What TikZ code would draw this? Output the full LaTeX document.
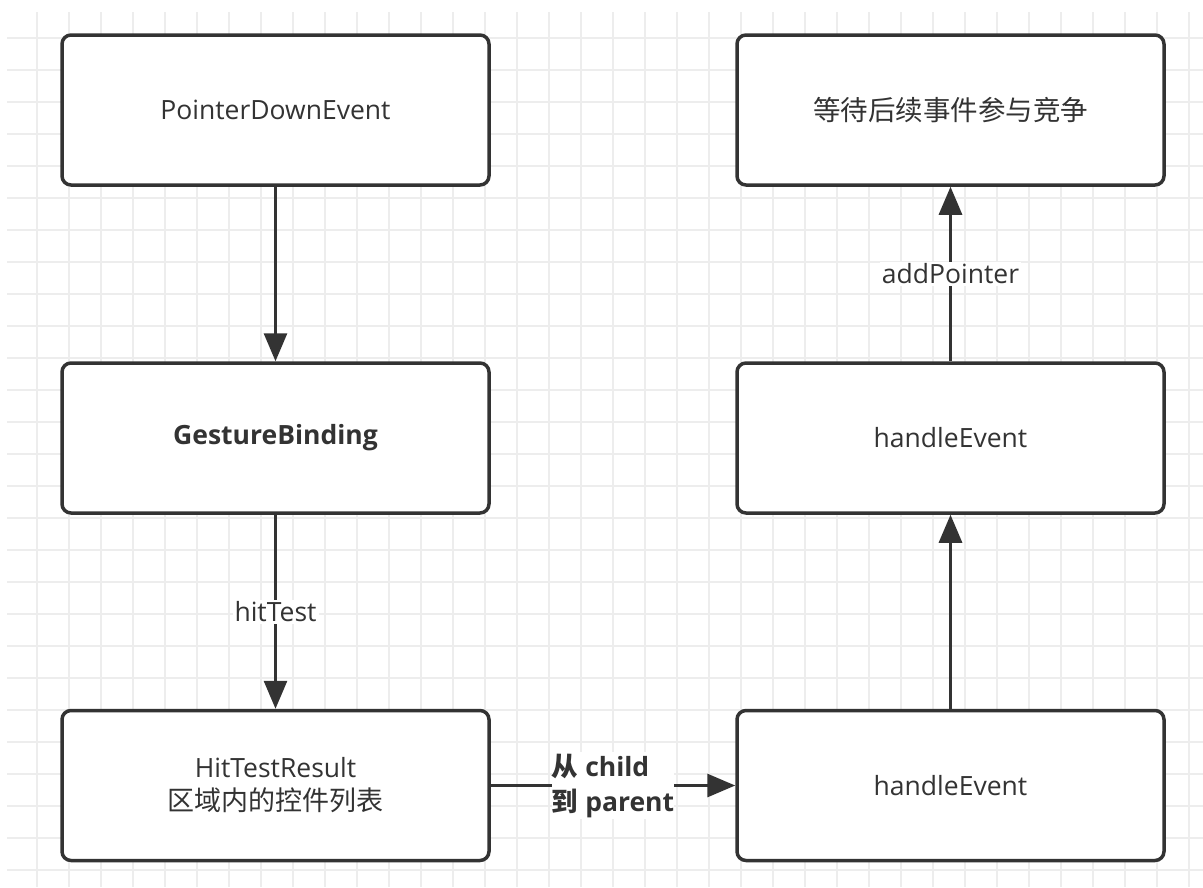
\documentclass[tikz,border=0pt]{standalone}
\usepackage{fontspec}
\setmainfont{Open Sans}
\newfontfamily\cjk{Noto Sans CJK SC}
\usetikzlibrary{arrows.meta,calc}
\definecolor{gridc}{HTML}{EDEDED}
\definecolor{ink}{HTML}{333333}
\tikzset{
  boxnode/.style={draw=ink, line width=3.5pt, fill=white, rounded corners=9pt,
    minimum width=427pt, minimum height=150pt, align=center, inner sep=0pt,
    font=\fontsize{26.5}{33}\selectfont, text=ink},
  arr/.style={draw=ink, line width=3pt, -{Triangle[length=28pt,width=23pt]}},
  lbl/.style={fill=white, inner sep=2pt, font=\fontsize{26.5}{33}\selectfont, text=ink, align=left},
  gridline/.style={draw=gridc, line width=1.4pt}
}
\begin{document}
\begin{tikzpicture}[x=1pt,y=-1pt]
\useasboundingbox (0,0) rectangle (1203,887);
\fill[white] (0,0) rectangle (1203,887);
% grid
\foreach \i in {1,...,37} { \draw[gridline] ({5+32*\i},12) -- ({5+32*\i},887); }
\foreach \j in {1,...,27} { \draw[gridline] (7,{6+32*\j}) -- (1203,{6+32*\j}); }
% boxes
\node[boxnode] (b1) at (275.5,110) {PointerDownEvent};
\node[boxnode] (b2) at (275.5,438) {\bfseries GestureBinding};
\node[boxnode] (b3) at (275.5,785.5) {HitTestResult\\{\cjk\fontsize{27}{33}\selectfont 区域内的控件列表}};
\node[boxnode] (b4) at (950.5,110) {{\cjk\fontsize{27.5}{33}\selectfont 等待后续事件参与竞争}};
\node[boxnode] (b5) at (950.5,438) {handleEvent};
\node[boxnode] (b6) at (950.5,785.5) {handleEvent};
% connectors
\draw[arr] (b1.south) -- (b2.north);
\draw[arr] (b2.south) -- node[lbl, align=center] (l1) {hitTest} (b3.north);
\draw[arr] (b3.east) -- node[lbl, inner xsep=0pt, font=\fontsize{26.5}{35}\selectfont\bfseries] (l2) {{\cjk\bfseries 从} child\\{\cjk\bfseries 到} parent} (b6.west);
\draw[arr] (b6.north) -- (b5.south);
\draw[arr] (b5.north) -- node[lbl, align=center] (l3) {addPointer} (b4.south);
\end{tikzpicture}
\end{document}
